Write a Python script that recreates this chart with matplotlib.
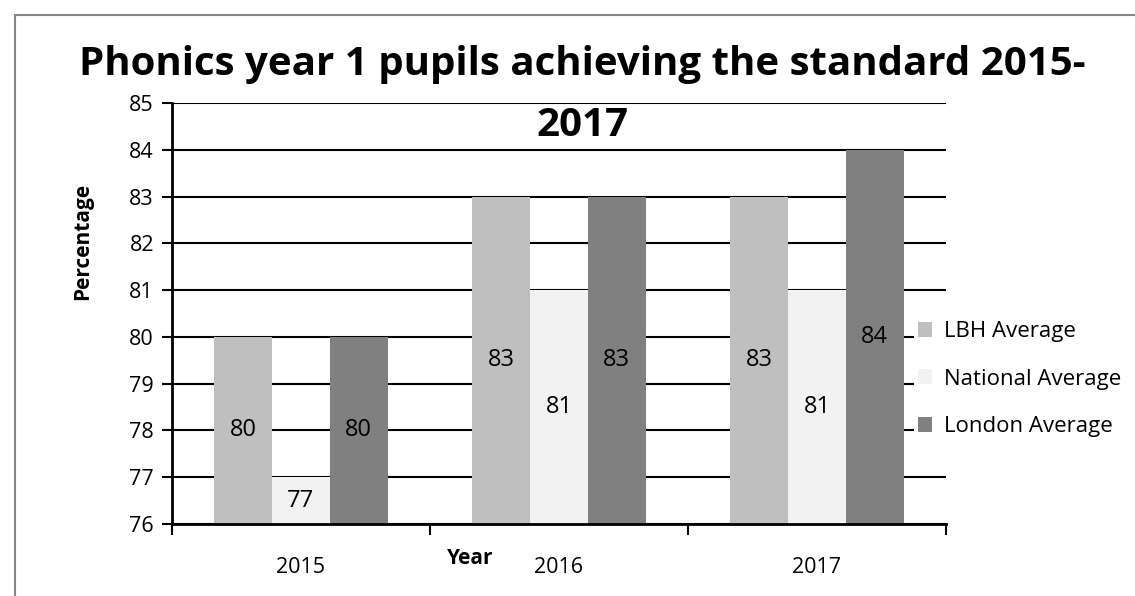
import numpy as np
import matplotlib.pyplot as plt
from matplotlib.patches import Rectangle

plt.rcParams['font.family'] = ['Open Sans', 'DejaVu Sans']

years = ['2015', '2016', '2017']
series_names = ['LBH Average', 'National Average', 'London Average']
lbh = [80, 83, 83]
national = [77, 81, 81]
london = [80, 83, 84]
colors = ['#BFBFBF', '#F2F2F2', '#808080']
title_lines = ['Phonics year 1 pupils achieving the standard 2015-', '2017']

fig = plt.figure(figsize=(11.35, 5.96), dpi=100)
ax = fig.add_axes([0.1515, 0.1208, 0.682, 0.7064])

x = np.arange(len(years))
w = 0.224
base = 76
for i, (vals, name) in enumerate(zip([lbh, national, london], series_names)):
    pos = x + (i - 1) * w
    heights = [v - base for v in vals]
    ax.bar(pos, heights, w, bottom=base, color=colors[i], label=name, zorder=3)
    for p, v in zip(pos, vals):
        ax.text(p, (base + v) / 2, str(v), ha='center', va='center', fontsize=17, zorder=4)

ax.set_ylim(76, 85)
ax.set_xlim(-0.5, 2.5)
ax.set_yticks(range(76, 86))
ax.yaxis.grid(True, color='black', linewidth=1.5, zorder=0)
ax.set_axisbelow(True)

# category ticks at the boundaries, labels in the middle
ax.set_xticks([-0.5, 0.5, 1.5, 2.5])
ax.set_xticklabels([])
ax.set_xticks(x, minor=True)
ax.set_xticklabels(years, minor=True, fontsize=15.5)
ax.tick_params(axis='x', which='major', direction='out', length=8, width=1.5)
ax.tick_params(axis='x', which='minor', length=0, pad=24)
ax.tick_params(axis='y', direction='out', length=7, width=1.5, labelsize=15.5, pad=6)

for s in ['top', 'right']:
    ax.spines[s].set_visible(False)
for s in ['left', 'bottom']:
    ax.spines[s].set_linewidth(2)
    ax.spines[s].set_zorder(5)

ax.set_ylabel('Percentage', fontsize=15, fontweight='bold')
ax.yaxis.set_label_coords(-0.102, 0.67)
ax.set_xlabel('Year', fontsize=15, fontweight='bold')
ax.xaxis.set_label_coords(0.385, -0.058)

# title in two pieces, second line sits over the top of the plot area
fig.text(0.513, 1 - 75 / 596, title_lines[0], ha='center', va='baseline',
         fontsize=29, fontweight='bold')
fig.text(0.513, 1 - 136 / 596, title_lines[1], ha='center', va='baseline',
         fontsize=29, fontweight='bold')

leg = ax.legend(loc='center left', bbox_to_anchor=(0.958, 0.344), frameon=True,
                fontsize=16, handlelength=0.65, handleheight=0.65, handletextpad=0.5,
                labelspacing=1.2, borderpad=0.2, borderaxespad=0)
leg.get_frame().set_facecolor('white')
leg.get_frame().set_edgecolor('none')
leg.get_frame().set_alpha(1)
leg.set_zorder(6)

# outer chart border (only top and left visible)
fig.patches.append(Rectangle((15 / 1135, -0.1), 1.2, 1 - 15 / 596 + 0.1,
                             transform=fig.transFigure, fill=False,
                             edgecolor='#868686', linewidth=1.5))

fig.savefig('out.png', dpi=100)
